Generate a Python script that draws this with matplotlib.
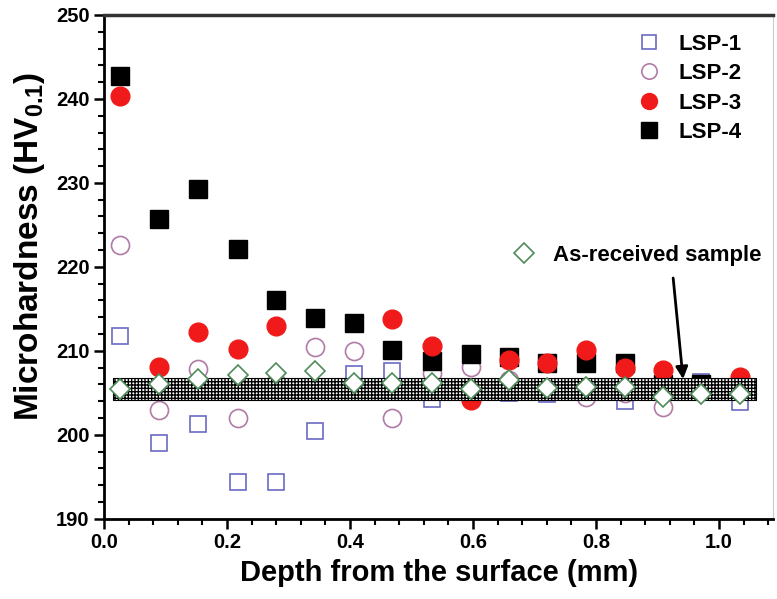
import matplotlib
matplotlib.use("Agg")
import matplotlib.pyplot as plt

plt.rcParams['font.family'] = ['Liberation Sans', 'DejaVu Sans']
plt.rcParams['font.weight'] = 'bold'
plt.rcParams['hatch.linewidth'] = 1.0
plt.rcParams['mathtext.fontset'] = 'custom'
plt.rcParams['mathtext.rm'] = 'Liberation Sans:bold'
plt.rcParams['mathtext.bf'] = 'Liberation Sans:bold'

depth = [0.026, 0.089, 0.152, 0.217, 0.279, 0.343, 0.406, 0.469, 0.533,
         0.596, 0.658, 0.721, 0.784, 0.847, 0.909, 0.971, 1.034]

lsp1 = [211.8, 199.0, 201.3, 194.4, 194.4, 200.4, 207.2, 207.6, 204.3,
        205.2, 205.0, 204.8, 205.5, 204.0, 205.5, 206.3, 203.9]
lsp2 = [222.6, 203.0, 207.8, 202.0, 206.3, 210.4, 210.0, 202.0, 207.4,
        208.1, 206.5, 205.5, 204.5, 205.0, 203.3, 205.5, 206.3]
lsp3 = [240.4, 208.1, 212.3, 210.2, 213.0, 205.7, 205.5, 213.8, 210.6,
        204.2, 208.9, 208.6, 210.1, 207.9, 207.7, 205.5, 206.9]
lsp4 = [242.7, 225.7, 229.3, 222.1, 216.0, 213.9, 213.3, 210.1, 208.8,
        209.6, 209.3, 208.5, 208.6, 208.5, 206.0, 206.0, 205.6]
as_received = [205.5, 206.0, 206.7, 207.1, 207.3, 207.6, 206.2, 206.2, 206.2,
               205.4, 206.5, 205.6, 205.7, 205.7, 204.5, 204.8, 204.8]

band_x = [0.015, 1.06]
band_low = 204.1
band_high = 206.8

arrow_tail = (0.925, 219.0)
arrow_head = (0.942, 206.3)

fig = plt.figure(figsize=(7.77, 5.99), dpi=100)
ax = fig.add_axes([0.134, 0.134, 0.861, 0.841])

c1 = '#6b6bc4'
c2 = '#b27aa6'
c3 = '#f01a1a'
c4 = '#000000'
cd = '#4e8c5a'

l1, = ax.plot(depth, lsp1, ls='none', marker='s', ms=12, mfc='white', mec=c1, mew=1.2, zorder=2)
l2, = ax.plot(depth, lsp2, ls='none', marker='o', ms=13, mfc='white', mec=c2, mew=1.2, zorder=2)
l4, = ax.plot(depth, lsp4, ls='none', marker='s', ms=13, mfc=c4, mec=c4, zorder=2)
l3, = ax.plot(depth, lsp3, ls='none', marker='o', ms=13.5, mfc=c3, mec=c3, zorder=2)

ax.fill_between(band_x, [band_low, band_low], [band_high, band_high],
                facecolor='white', edgecolor='black', hatch='+++++', linewidth=0.8, zorder=3)

ld, = ax.plot(depth, as_received, ls='none', marker='D', ms=10, mfc='white', mec=cd, mew=1.2, zorder=4)

ax.annotate('', xy=arrow_head, xytext=arrow_tail,
            arrowprops=dict(arrowstyle='-|>', color='black', lw=2, mutation_scale=18), zorder=5)

leg1 = ax.legend([l1, l2, l3, l4], ['LSP-1', 'LSP-2', 'LSP-3', 'LSP-4'],
                 loc='upper left', bbox_to_anchor=(0.782, 0.985), frameon=False,
                 prop={'weight': 'bold', 'size': 16}, handlelength=1.0, handletextpad=0.8,
                 labelspacing=0.38, borderpad=0, markerscale=0.85)
ax.add_artist(leg1)
ax.legend([ld], ['As-received sample'], loc='center left', bbox_to_anchor=(0.594, 0.522),
          frameon=False, prop={'weight': 'bold', 'size': 16}, handlelength=1.0,
          handletextpad=0.8, borderpad=0)

ax.set_xlim(0.0, 1.088)
ax.set_ylim(190, 250)
ax.set_xticks([0.0, 0.2, 0.4, 0.6, 0.8, 1.0])
ax.set_xticks([i * 0.04 for i in range(28)], minor=True)
ax.set_yticks([190, 200, 210, 220, 230, 240, 250])
ax.set_yticks(list(range(190, 251, 2)), minor=True)
ax.set_xticklabels(['0.0', '0.2', '0.4', '0.6', '0.8', '1.0'])

ax.tick_params(axis='both', which='major', direction='out', length=7, width=1.8, labelsize=14.5)
ax.tick_params(axis='both', which='minor', direction='out', length=4, width=1.5)
for lab in ax.get_xticklabels() + ax.get_yticklabels():
    lab.set_fontweight('bold')

ax.spines['left'].set_linewidth(2)
ax.spines['bottom'].set_linewidth(2)
ax.spines['top'].set_linewidth(2.5)
ax.spines['top'].set_color('#333333')
ax.spines['right'].set_linewidth(0.8)
ax.spines['right'].set_color('#cccccc')

ax.set_xlabel('Depth from the surface (mm)', fontsize=21, fontweight='bold', labelpad=5)
ax.set_ylabel(r'Microhardness (HV$_{\mathbf{0.1}}$)', fontsize=24, fontweight='bold')
ax.yaxis.set_label_coords(-0.085, 0.54)

fig.savefig('out.png', dpi=100)
